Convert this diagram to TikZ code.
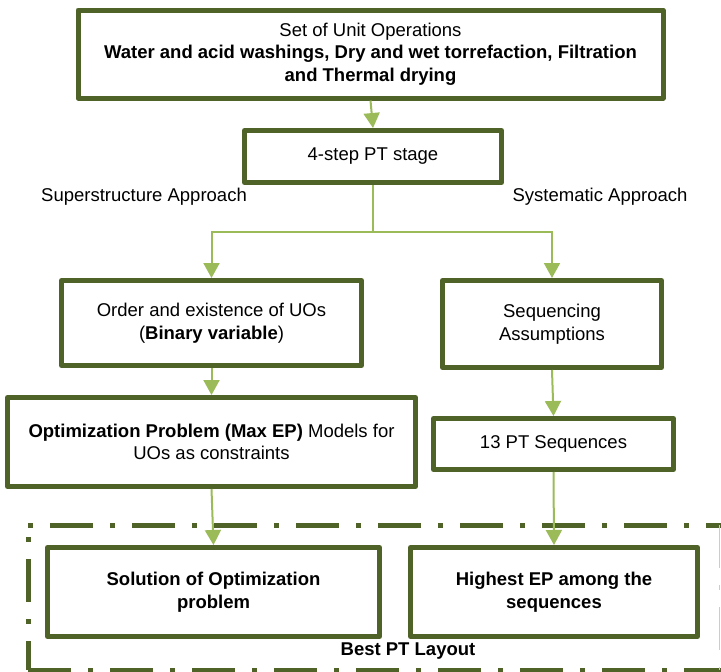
\documentclass[tikz,border=0pt]{standalone}
\usepackage{fontspec}
\setmainfont{Liberation Sans}
\usetikzlibrary{arrows.meta}
\definecolor{olivedark}{HTML}{4F6228}
\definecolor{olivelight}{HTML}{9BBB59}
\begin{document}
\begin{tikzpicture}[x=1pt, y=-1pt,
  box/.style={draw=olivedark, fill=white, line width=5pt, line join=round, rectangle,
    align=center, inner sep=0pt, font=\fontsize{18.5}{22.5}\selectfont},
  flow/.style={draw=olivelight, line width=2pt, -{Triangle[width=16pt,length=15pt]}},
  lbl/.style={font=\fontsize{18.5}{22.5}\selectfont},
  frame/.style={draw=olivedark, line width=5pt, dash pattern=on 43pt off 17pt on 5pt off 17pt}]
  \useasboundingbox (0,0) rectangle (721,672);
  % dash-dot frame round the last row
  \draw[frame, dash phase=60pt] (28,525) -- (722,525);
  \draw[frame, dash phase=48pt] (28,525) -- (28,670);
  \draw[frame] (28,670) -- (722,670);
  \draw[olivedark!30, line width=1pt, dash pattern=on 43pt off 17pt on 5pt off 17pt] (719.5,525) -- (719.5,670);
  % boxes
  \node[box, minimum width=585pt, minimum height=88pt] (units) at (370.5,54)
    {Set of Unit Operations\\ \textbf{Water and acid washings, Dry and wet torrefaction, Filtration}\\ \textbf{and Thermal drying}};
  \node[box, minimum width=257pt, minimum height=52pt] (stage) at (373,156.5) {4-step PT stage};
  \node[lbl] (superlbl) at (144,197) {Superstructure Approach};
  \node[lbl] (systlbl) at (600,197) {Systematic Approach};
  \node[box, minimum width=300pt, minimum height=85pt] (order) at (211.5,323)
    {Order and existence of UOs\\ (\textbf{Binary variable})};
  \node[box, minimum width=219pt, minimum height=87pt] (seq) at (552,324) {Sequencing\\ Assumptions};
  \node[box, minimum width=408pt, minimum height=89pt] (optim) at (211.5,442)
    {\textbf{Optimization Problem (Max EP)} Models for\\ UOs as constraints};
  \node[box, minimum width=240pt, minimum height=51pt] (seqs) at (553.5,444) {13 PT Sequences};
  \node[box, minimum width=332pt, minimum height=89pt] (solution) at (213.5,592)
    {\textbf{Solution of Optimization}\\ \textbf{problem}};
  \node[box, minimum width=287pt, minimum height=89pt] (highest) at (554,592)
    {\textbf{Highest EP among the}\\ \textbf{sequences}};
  \node[lbl] (layout) at (408,651) {\textbf{Best PT Layout}};
  % connectors
  \coordinate (split) at (373,232);
  \draw[flow] (units.south) -- (stage.north);
  \draw[olivelight, line width=2pt] (stage.south) -- (split);
  \draw[flow] (split) -| (order.north);
  \draw[flow] (split) -| (seq.north);
  \draw[flow] (order.south) -- (optim.north);
  \draw[flow] (seq.south) -- (seqs.north);
  \draw[flow] (optim.south) -- (solution.north);
  \draw[flow] (seqs.south) -- (highest.north);
\end{tikzpicture}
\end{document}
